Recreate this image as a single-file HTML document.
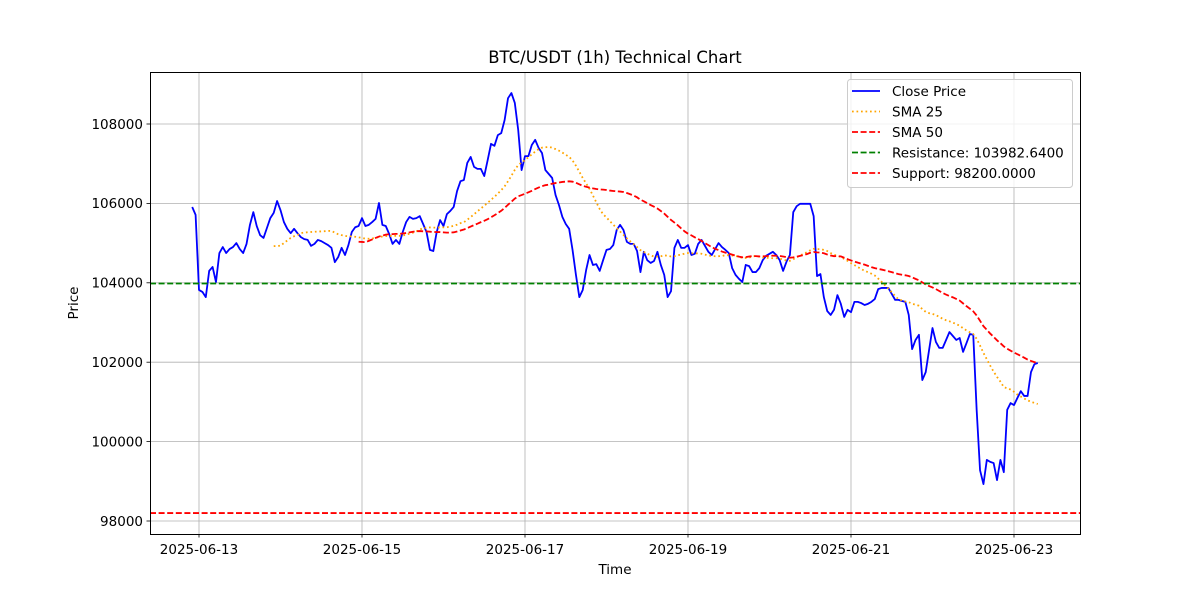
<!DOCTYPE html>
<html><head><meta charset="utf-8"><style>
body{margin:0;background:#fff;}
svg text{font-family:"DejaVu Sans","Liberation Sans",sans-serif;fill:#000;}
</style></head><body>
<svg id="chart" width="1200" height="600" viewBox="0 0 1200 600" xmlns="http://www.w3.org/2000/svg">
<rect x="0" y="0" width="1200" height="600" fill="#fff"/>
<g id="grid"></g>
<g id="series"></g>
<rect x="150.5" y="72.5" width="930" height="462" fill="none" stroke="#000" stroke-width="1"/>
<g id="ticks"></g>
<text x="615" y="63" font-size="16.5" text-anchor="middle">BTC/USDT (1h) Technical Chart</text>
<text x="615" y="574" font-size="13.5" text-anchor="middle">Time</text>
<text x="78" y="303" font-size="13.5" text-anchor="middle" transform="rotate(-90 78 303)">Price</text>
<g id="legend">
<rect x="847.5" y="79.5" width="225" height="108" rx="3" fill="#fff" fill-opacity="0.8" stroke="#ccc"/>
<line x1="852" y1="91" x2="880" y2="91" stroke="#0000ff" stroke-width="1.7"/>
<text x="892" y="96" font-size="13.5">Close Price</text>
<line x1="852" y1="111.5" x2="880" y2="111.5" stroke="#ffa500" stroke-width="1.7" stroke-dasharray="1.7 2.8"/>
<text x="892" y="116.5" font-size="13.5">SMA 25</text>
<line x1="852" y1="132" x2="880" y2="132" stroke="#ff0000" stroke-width="1.7" stroke-dasharray="6 2.6"/>
<text x="892" y="137" font-size="13.5">SMA 50</text>
<line x1="852" y1="152.5" x2="880" y2="152.5" stroke="#008000" stroke-width="1.7" stroke-dasharray="6 2.6"/>
<text x="892" y="157.5" font-size="13.5">Resistance: 103982.6400</text>
<line x1="852" y1="173" x2="880" y2="173" stroke="#ff0000" stroke-width="1.7" stroke-dasharray="6 2.6"/>
<text x="892" y="178" font-size="13.5">Support: 98200.0000</text>
</g>
</svg>
<script>
const startHour = -2; // hours relative to 2025-06-13 00:00, 1h candles
const closes = [105910,105710,103820,103770,103640,104300,104400,104020,104750,104900,
104750,104850,104900,105000,104850,104750,104980,105460,105780,105430,
105200,105130,105380,105630,105760,106060,105830,105530,105360,105250,
105360,105250,105150,105100,105080,104930,104980,105080,105050,105000,
104950,104880,104520,104650,104880,104700,104950,105280,105400,105430,
105630,105430,105460,105530,105610,106010,105460,105430,105230,104980,
105080,104980,105280,105530,105660,105610,105630,105680,105480,105280,
104830,104800,105280,105580,105430,105730,105810,105910,106310,106560,
106590,107020,107170,106920,106870,106870,106690,107090,107500,107450,
107720,107770,108100,108650,108780,108530,107850,106840,107190,107190,
107470,107600,107400,107270,106840,106740,106640,106210,105960,105660,
105480,105360,104830,104200,103640,103820,104320,104700,104450,104470,
104300,104570,104830,104850,104950,105330,105460,105330,105030,104980,
104980,104800,104270,104780,104570,104500,104550,104780,104450,104200,
103640,103790,104880,105080,104880,104880,104950,104700,104730,104980,
105080,104930,104780,104700,104850,105000,104900,104830,104750,104370,
104200,104100,104020,104450,104420,104270,104270,104370,104570,104680,
104730,104780,104700,104570,104300,104530,104700,105780,105930,105990,
105990,105990,105990,105680,104170,104220,103640,103290,103190,103320,
103690,103470,103140,103320,103260,103520,103520,103490,103440,103470,
103520,103590,103840,103870,103870,103870,103720,103570,103570,103540,
103520,103190,102330,102560,102690,101550,101750,102310,102860,102510,
102360,102360,102560,102760,102660,102560,102610,102260,102480,102710,
102690,100800,99280,98930,99540,99490,99460,99030,99540,99230,
100800,100970,100920,101100,101270,101150,101150,101750,101950,101980];
const smaPeriods = [25, 50];
const resistance = 103982.64;
const support = 98200;
const yTicks = [98000,100000,102000,104000,106000,108000];
const xTickDays = [0,2,4,6,8,10];
const xTickLabels = ["2025-06-13","2025-06-15","2025-06-17","2025-06-19","2025-06-21","2025-06-23"];

const NS = "http://www.w3.org/2000/svg";
const L = 150, R = 1080, T = 72, B = 534;
function xH(h){ return 199 + h * 81.5 / 24; }
function yP(p){ return 521 - (p - 98000) * 0.0397; }
function mk(tag, attrs, parent){
  const e = document.createElementNS(NS, tag);
  for (const k in attrs) e.setAttribute(k, attrs[k]);
  parent.appendChild(e);
  return e;
}
const grid = document.getElementById('grid');
const ticks = document.getElementById('ticks');
const series = document.getElementById('series');

yTicks.forEach(v => {
  const y = yP(v);
  const g = mk('line', {x1:L, x2:R, y1:y, y2:y, stroke:'#b0b0b0', 'stroke-width':0.8}, grid);
  
  
  const t = mk('line', {x1:L-3.5, x2:L, y1:y, y2:y, stroke:'#000', 'stroke-width':0.8}, ticks);
  
  
  const lb = mk('text', {x:L-7, y:y+4.8, 'font-size':13.5, 'text-anchor':'end'}, ticks);
  lb.textContent = String(v);
  
  
});
xTickDays.forEach((d, i) => {
  const x = xH(d * 24);
  const g = mk('line', {x1:x, x2:x, y1:T, y2:B, stroke:'#b0b0b0', 'stroke-width':0.8}, grid);
  
  
  const t = mk('line', {x1:x, x2:x, y1:B, y2:B+3.5, stroke:'#000', 'stroke-width':0.8}, ticks);
  
  
  const lb = mk('text', {x:x, y:B+20, 'font-size':13.5, 'text-anchor':'middle'}, ticks);
  lb.textContent = xTickLabels[i];
  
  
});

function sma(n){
  const out = [];
  for (let i = n - 1; i < closes.length; i++){
    let s = 0;
    for (let j = i - n + 1; j <= i; j++) s += closes[j];
    out.push([i, s / n]);
  }
  return out;
}
function pathFrom(pts){
  return pts.map((p, k) => (k ? 'L' : 'M') + xH(startHour + p[0]).toFixed(2) + ' ' + yP(p[1]).toFixed(2)).join(' ');
}
const closePts = closes.map((c, i) => [i, c]);
const pClose = mk('path', {d:pathFrom(closePts), fill:'none', stroke:'#0000ff', 'stroke-width':1.8, 'stroke-linejoin':'round'}, series);


const p25 = mk('path', {d:pathFrom(sma(smaPeriods[0])), fill:'none', stroke:'#ffa500', 'stroke-width':1.8, 'stroke-dasharray':'1.7 2.8'}, series);


const p50 = mk('path', {d:pathFrom(sma(smaPeriods[1])), fill:'none', stroke:'#ff0000', 'stroke-width':1.8, 'stroke-dasharray':'6 2.6'}, series);


const rl = mk('line', {x1:L, x2:R, y1:yP(resistance), y2:yP(resistance), stroke:'#008000', 'stroke-width':1.8, 'stroke-dasharray':'6 2.6'}, series);


const sl = mk('line', {x1:L, x2:R, y1:yP(support), y2:yP(support), stroke:'#ff0000', 'stroke-width':1.8, 'stroke-dasharray':'6 2.6'}, series);


</script>
</body></html>
